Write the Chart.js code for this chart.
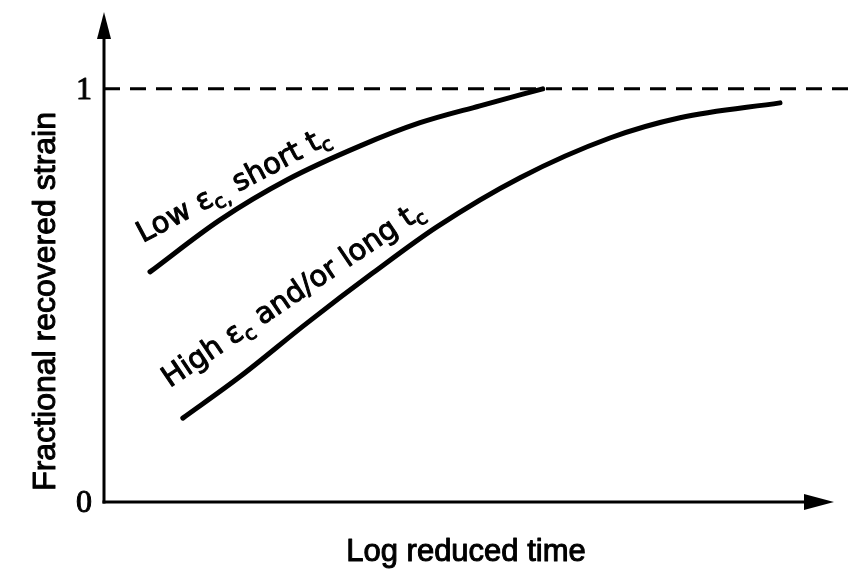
<!DOCTYPE html>
<html>
<head>
<meta charset="utf-8">
<script src="https://cdn.jsdelivr.net/npm/chart.js@4.4.1/dist/chart.umd.min.js"></script>
<style>
  html, body { margin: 0; padding: 0; background: #ffffff; }
  #wrap { width: 848px; height: 571px; }
</style>
</head>
<body>
<div id="wrap"><canvas id="c" width="848" height="571"></canvas></div>
<script>
// ---- Data ----
const lowStrainX = [6.3, 15.9, 25.1, 35.1, 43.3, 51.5, 60.1];
const lowStrainY = [0.557, 0.683, 0.780, 0.862, 0.918, 0.959, 1.0];
const highStrainX = [10.8, 18.6, 27.8, 36.8, 45.6, 57.0, 69.3, 78.9, 92.6];
const highStrainY = [0.203, 0.303, 0.433, 0.554, 0.666, 0.785, 0.881, 0.930, 0.966];
const fullRecoveryX = [0, 102];
const fullRecoveryY = [1, 1];
const yTickValues = [0, 1];
const yTickLabels = ['0', '1'];
const xTitle = 'Log reduced time';
const yTitle = 'Fractional recovered strain';
// curve labels: segments (text, subscript?) and anchor in data units
const lowLabel = [['Low ε', false], ['c', true], [',', true], [' short t', false], ['c', true]];
const lowLabelAnchor = {x: 5.3, y: 0.627, angle: -28};
const highLabel = [['High ε', false], ['c', true], [' and/or long t', false], ['c', true]];
const highLabelAnchor = {x: 9.0, y: 0.276, angle: -34};

const toPts = (xs, ys) => xs.map((x, i) => ({x: x, y: ys[i]}));

function heavyText(ctx, t, x, y, w) {
  ctx.fillText(t, x, y);
  ctx.lineWidth = w;
  ctx.strokeText(t, x, y);
}

function drawRich(ctx, segs, x, y, angleDeg, size, family) {
  ctx.save();
  ctx.translate(x, y);
  ctx.rotate(angleDeg * Math.PI / 180);
  ctx.fillStyle = '#000';
  ctx.strokeStyle = '#000';
  ctx.lineJoin = 'round';
  ctx.textBaseline = 'alphabetic';
  ctx.textAlign = 'left';
  let cx = 0;
  segs.forEach(([t, sub]) => {
    const s = sub ? size * 0.68 : size;
    ctx.font = `${s}px ${family}`;
    heavyText(ctx, t, cx, sub ? size * 0.22 : 0, 1);
    cx += ctx.measureText(t).width;
  });
  ctx.restore();
}

const axesPlugin = {
  id: 'axesPlugin',
  afterDatasetsDraw(chart) {
    const ctx = chart.ctx;
    const xs = chart.scales.x, ys = chart.scales.y;
    const x0 = xs.getPixelForValue(0);
    const y0 = ys.getPixelForValue(0);
    const xEnd = xs.getPixelForValue(xs.max);
    const yEnd = ys.getPixelForValue(ys.max);
    ctx.save();
    ctx.strokeStyle = '#000';
    ctx.fillStyle = '#000';
    ctx.lineWidth = 3;
    ctx.lineCap = 'butt';
    // y axis
    ctx.beginPath();
    ctx.moveTo(x0, y0 + 1.5);
    ctx.lineTo(x0, yEnd + 20);
    ctx.stroke();
    // x axis
    ctx.beginPath();
    ctx.moveTo(x0 - 1.5, y0);
    ctx.lineTo(xEnd - 20, y0);
    ctx.stroke();
    // arrow heads
    ctx.beginPath();
    ctx.moveTo(x0, yEnd);
    ctx.lineTo(x0 - 7, yEnd + 27);
    ctx.lineTo(x0 + 7, yEnd + 27);
    ctx.closePath();
    ctx.fill();
    ctx.beginPath();
    ctx.moveTo(xEnd, y0);
    ctx.lineTo(xEnd - 30, y0 - 8);
    ctx.lineTo(xEnd - 30, y0 + 8);
    ctx.closePath();
    ctx.fill();
    ctx.lineJoin = 'round';
    // y tick labels
    ctx.font = '32px "Liberation Serif"';
    ctx.textAlign = 'right';
    ctx.textBaseline = 'middle';
    yTickValues.forEach((v, i) => {
      heavyText(ctx, yTickLabels[i], x0 - 12, ys.getPixelForValue(v) + 2, 1);
    });
    // titles
    ctx.font = '31px "Liberation Sans"';
    ctx.textAlign = 'center';
    ctx.textBaseline = 'middle';
    heavyText(ctx, xTitle, (x0 + xEnd) / 2 - 3, y0 + 50, 1);
    ctx.save();
    ctx.translate(46, (y0 + ys.getPixelForValue(1)) / 2 + 6);
    ctx.rotate(-Math.PI / 2);
    ctx.font = '32px "Liberation Sans"';
    heavyText(ctx, yTitle, 0, 0, 1);
    ctx.restore();
    // curve labels
    drawRich(ctx, lowLabel, xs.getPixelForValue(lowLabelAnchor.x), ys.getPixelForValue(lowLabelAnchor.y), lowLabelAnchor.angle, 29, '"DejaVu Sans"');
    drawRich(ctx, highLabel, xs.getPixelForValue(highLabelAnchor.x), ys.getPixelForValue(highLabelAnchor.y), highLabelAnchor.angle, 29, '"DejaVu Sans"');
    ctx.restore();
  }
};

new Chart(document.getElementById('c'), {
  type: 'line',
  data: {
    datasets: [
      {
        label: 'Full recovery',
        data: toPts(fullRecoveryX, fullRecoveryY),
        borderColor: '#000',
        borderWidth: 3,
        borderDash: [16, 10],
        pointRadius: 0,
        clip: false,
        tension: 0
      },
      {
        label: 'Low εc, short tc',
        data: toPts(lowStrainX, lowStrainY),
        borderColor: '#000',
        borderWidth: 5,
        pointRadius: 0,
        cubicInterpolationMode: 'monotone',
        borderCapStyle: 'round'
      },
      {
        label: 'High εc and/or long tc',
        data: toPts(highStrainX, highStrainY),
        borderColor: '#000',
        borderWidth: 5,
        pointRadius: 0,
        cubicInterpolationMode: 'monotone',
        borderCapStyle: 'round'
      }
    ]
  },
  options: {
    responsive: false,
    animation: false,
    layout: { padding: { left: 104, right: 14, top: 12, bottom: 69 } },
    plugins: { legend: { display: false }, tooltip: { enabled: false } },
    scales: {
      x: { type: 'linear', min: 0, max: 100, display: false },
      y: { type: 'linear', min: 0, max: 1.186, display: false }
    }
  },
  plugins: [axesPlugin]
});
</script>
</body>
</html>
